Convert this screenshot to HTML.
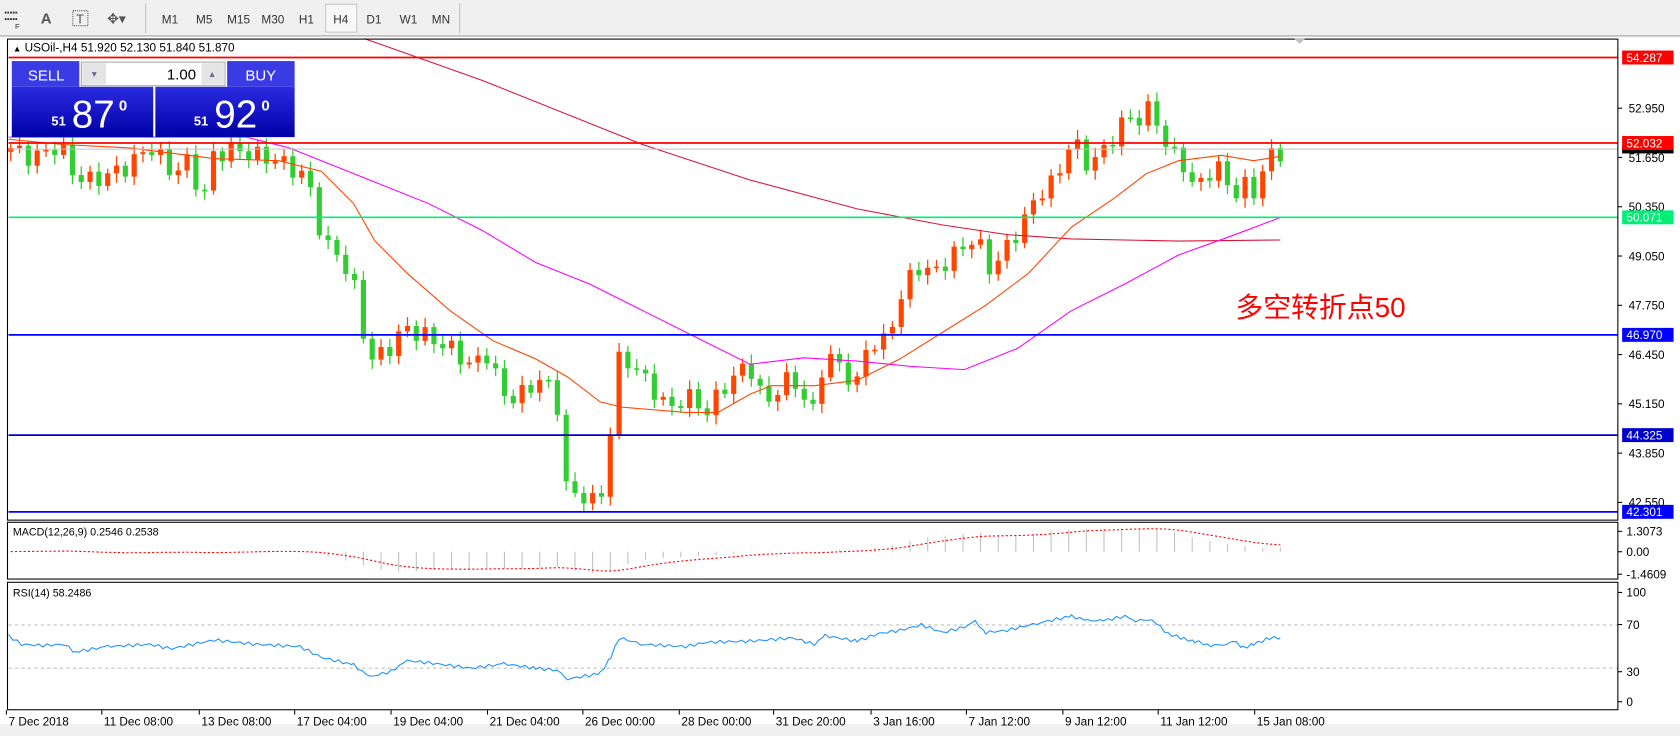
<!DOCTYPE html>
<html><head><meta charset="utf-8"><style>
html,body{margin:0;padding:0;background:#fff;overflow:hidden}
svg{display:block}
text{font-family:"Liberation Sans","Noto Sans CJK SC",sans-serif}
</style></head><body>
<svg id="s" width="1680" height="736" viewBox="0 0 1568 687" preserveAspectRatio="none" xmlns="http://www.w3.org/2000/svg">
<rect x="0" y="0" width="1568" height="687" fill="#f0f0f0"/>
<rect x="0" y="0" width="1568" height="33" fill="#f0f0f0"/>
<line x1="0" y1="33.5" x2="1568" y2="33.5" stroke="#a0a0a0"/>
<line x1="136" y1="3" x2="136" y2="31" stroke="#c0c0c0"/>
<line x1="429" y1="3" x2="429" y2="31" stroke="#c0c0c0"/>
<rect x="304" y="4" width="29" height="26" fill="#f8f8f8" stroke="#c8c8c8"/>
<g font-size="11" fill="#333">
<text x="4" y="14" font-size="7">▪▪▪▪▪</text><text x="4" y="20" font-size="7">▪▪▪▪▪</text><text x="14" y="27" font-size="7">F</text>
<text x="38" y="22" font-size="14" font-weight="bold" fill="#555">A</text>
<rect x="68" y="10" width="14" height="14" fill="none" stroke="#555" stroke-dasharray="1,1"/><text x="71" y="22" font-size="12" fill="#555">T</text>
<text x="100" y="22" font-size="13" fill="#555">✥▾</text>
<text x="151" y="22">M1</text><text x="183" y="22">M5</text><text x="212" y="22">M15</text><text x="244" y="22">M30</text><text x="279" y="22">H1</text><text x="311" y="22">H4</text><text x="342" y="22">D1</text><text x="373" y="22">W1</text><text x="403" y="22">MN</text>
</g>
<rect x="0" y="35" width="1568" height="652" fill="#fff"/>
<rect x="0" y="676" width="1568" height="11" fill="#f0f0f0"/>
<g id="plot"></g>
<rect x="7" y="36.5" width="1503" height="449" fill="none" stroke="#000"/>
<rect x="7" y="487.5" width="1503" height="53" fill="none" stroke="#000"/>
<rect x="7" y="543.5" width="1503" height="119" fill="none" stroke="#000"/>
<polygon points="1208,36 1218,36 1213,41" fill="#c0c0c0"/>
<text x="12" y="48" font-size="11"><tspan font-size="8">▲</tspan> USOil-,H4  51.920 52.130 51.840 51.870</text>
<g>
<rect x="11" y="57" width="63" height="24" fill="#3b3be6"/>
<text x="26" y="75" font-size="14" fill="#fff">SELL</text>
<rect x="212" y="57" width="63" height="24" fill="#3b3be6"/>
<text x="229" y="75" font-size="14" fill="#fff">BUY</text>
<rect x="76" y="58" width="134" height="22" fill="#fff" stroke="#aaa"/>
<rect x="77" y="59" width="22" height="20" fill="#e4e4e4"/>
<rect x="188" y="59" width="21" height="20" fill="#e4e4e4"/>
<text x="84" y="72" font-size="8" fill="#6a6aa0">▼</text><text x="194" y="72" font-size="8" fill="#6a6aa0">▲</text>
<text x="183" y="74" font-size="14" text-anchor="end">1.00</text>
<defs><linearGradient id="g" x1="0" y1="0" x2="0" y2="1"><stop offset="0" stop-color="#2b2be0"/><stop offset="1" stop-color="#0000a8"/></linearGradient></defs>
<rect x="11" y="81" width="132" height="47" fill="url(#g)"/>
<rect x="145" y="81" width="130" height="47" fill="url(#g)"/>
<text x="48" y="117" font-size="12" font-weight="bold" fill="#fff">51</text>
<text x="67" y="119" font-size="36" fill="#fff">87</text>
<text x="111" y="103" font-size="14" font-weight="bold" fill="#fff">0</text>
<text x="181" y="117" font-size="12" font-weight="bold" fill="#fff">51</text>
<text x="200" y="119" font-size="36" fill="#fff">92</text>
<text x="244" y="103" font-size="14" font-weight="bold" fill="#fff">0</text>
</g>
<text x="1153" y="296" font-size="26" fill="#ff0000">多空转折点50</text>
<g id="axis" font-size="11"></g>
</svg>
<script>
var NS="http://www.w3.org/2000/svg";
var P=document.getElementById('plot'),A=document.getElementById('axis');
function el(t,a,p){var e=document.createElementNS(NS,t);for(var k in a)e.setAttribute(k,a[k]);(p||P).appendChild(e);return e;}
function Y(p){return 101+(52.95-p)*35.38;}
var K=[[10,51.9],[30,51.8],[55,52.0],[70,51.0],[85,50.9],[100,51.2],[120,51.6],[140,52.0],[160,51.1],[175,51.4],[190,50.6],[200,51.9],[220,52.0],[240,51.6],[260,51.4],[280,51.3],[295,50.7],[300,49.5],[315,49.2],[330,48.2],[345,46.1],[360,46.5],[380,47.3],[400,47.0],[420,46.5],[440,46.0],[455,46.5],[470,45.5],[490,45.5],[505,45.8],[520,45.0],[530,42.5],[545,42.8],[560,42.6],[568,44.3],[578,46.4],[590,46.2],[600,45.7],[625,44.9],[640,45.5],[660,45.1],[680,45.7],[700,46.0],[715,45.0],[730,45.9],[745,45.8],[760,44.9],[770,46.5],[785,45.9],[800,45.6],[810,46.8],[825,46.9],[840,48.0],[855,48.8],[870,48.4],[890,49.0],[910,49.7],[925,48.8],[940,49.3],[955,49.8],[970,50.6],[985,51.0],[1000,52.3],[1015,51.6],[1030,51.8],[1050,52.5],[1065,52.6],[1075,53.0],[1090,52.0],[1105,51.6],[1115,50.8],[1130,51.2],[1140,51.2],[1150,50.5],[1160,50.9],[1172,50.8],[1182,51.8],[1195,51.9]];
function interp(x){for(var i=1;i<K.length;i++){if(x<=K[i][0]){var a=K[i-1],b=K[i];return a[1]+(b[1]-a[1])*(x-a[0])/(b[0]-a[0]);}}return K[K.length-1][1];}
var N=145,dx=(1195-10)/(N-1),C=[],prev=51.8;
for(var i=0;i<N;i++){
 var x=10+i*dx,c=interp(x)+0.25*Math.sin(i*2.3)+0.15*Math.sin(i*5.7);
 var o=prev,hi=Math.max(o,c)+0.1+0.15*Math.abs(Math.sin(i*1.7)),lo=Math.min(o,c)-0.1-0.15*Math.abs(Math.cos(i*1.3));
 var up=c>=o,col=up?'#ff4500':'#32cd32';
 el('line',{x1:x,y1:Y(hi),x2:x,y2:Y(lo),stroke:col,'stroke-width':1.2});
 var t=Y(Math.max(o,c)),h=Math.max(1.5,Math.abs(Y(o)-Y(c)));
 el('rect',{x:x-2.4,y:t,width:4.8,height:h,fill:col});
 C.push(c);prev=c;
}
function pl(pts,col,w,extra){var s=pts.map(function(p){return p[0]+','+p[1]}).join(' ');var a={points:s,fill:'none',stroke:col,'stroke-width':w};for(var k in extra)a[k]=extra[k];el('polyline',a);}
pl([[340,36],[450,75],[600,135],[700,168],[800,195],[880,210],[940,219],[1000,223],[1100,225],[1195,224]],'#dc143c',1);
pl([[8,128],[230,128],[270,138],[300,150],[350,170],[400,190],[450,215],[500,245],[550,265],[600,290],[650,315],[700,340],[750,334],[800,337],[850,342],[900,345],[950,325],[1000,290],[1050,265],[1100,238],[1150,220],[1195,203]],'#ff00ff',1);
pl([[8,130],[60,135],[120,138],[200,148],[260,150],[300,160],[330,190],[350,225],[380,255],[420,290],[460,318],[500,335],[530,352],[560,375],[580,380],[640,385],[670,385],[700,368],[720,360],[760,360],[800,355],[840,335],[880,310],[920,285],[960,255],[1000,212],[1040,185],[1070,162],[1100,150],[1140,145],[1170,150],[1195,146]],'#ff4500',1);
[[54.287,'#ff0000'],[52.032,'#ff0000'],[50.071,'#00ee76'],[46.97,'#0000ff'],[44.325,'#0000cd'],[42.301,'#0000ff']].forEach(function(h){var y=Y(h[0]);el('line',{x1:8,y1:y,x2:1510,y2:y,stroke:h[1],'stroke-width':1.6});});
el('line',{x1:8,y1:Y(51.87),x2:1510,y2:Y(51.87),stroke:'#c0c0c0','stroke-width':1});
function ema(a,n){var k=2/(n+1),r=[],e=a[0];for(var i=0;i<a.length;i++){e=a[i]*k+e*(1-k);r.push(e);}return r;}
var pre=[];for(var i=0;i<40;i++)pre.push(51.6);var CC=pre.concat(C);
var e12=ema(CC,12),e26=ema(CC,26),m=[];for(var i=0;i<CC.length;i++)m.push(e12[i]-e26[i]);
var sg=[],s=0;for(var i=0;i<m.length;i++){s=s+(m[i]-s)*0.2;sg.push(s);}
var z=515,sc=14.5,sp=[];
for(var i=0;i<N;i++){var x=10+i*dx,v=m[i+40],k=v>0?1.25:1,y=z-v*sc*k;y=Math.max(489,Math.min(539,y));
 if(i%2==0)el('line',{x1:x,y1:z,x2:x,y2:y,stroke:'#c0c0c0','stroke-width':1});
 sp.push([x,Math.max(489,Math.min(539,z-sg[i+40]*sc*(sg[i+40]>0?1.25:1)))]);}
pl(sp,'#ff0000',1,{'stroke-dasharray':'2,2'});
el('text',{x:12,y:500,'font-size':10}).textContent='MACD(12,26,9) 0.2546 0.2538';
function RY(v){return 654-v*1.01;}
el('line',{x1:8,y1:RY(70),x2:1510,y2:RY(70),stroke:'#c0c0c0','stroke-dasharray':'3,3'});
el('line',{x1:8,y1:RY(30),x2:1510,y2:RY(30),stroke:'#c0c0c0','stroke-dasharray':'3,3'});
var R=[[8,60],[20,52],[40,51],[60,52],[70,45],[100,50],[140,52],[160,48],[200,56],[240,52],[280,50],[300,40],[330,33],[345,22],[365,27],[380,37],[400,35],[440,30],[470,34],[500,30],[520,28],[530,20],[560,25],[570,40],[578,58],[600,52],[640,50],[660,54],[700,55],[740,58],[760,52],[770,60],[800,55],[820,62],[840,65],[860,70],[880,63],[900,68],[910,73],[920,63],[940,65],[970,72],[1000,78],[1015,74],[1030,74],[1050,78],[1060,74],[1075,75],[1090,62],[1105,57],[1115,55],[1130,51],[1145,52],[1150,56],[1160,49],[1170,52],[1185,58],[1195,58]];
var rp=[];for(var i=0;i<R.length-1;i++){var a=R[i],b=R[i+1];for(var x=a[0];x<b[0];x+=4){var v=a[1]+(b[1]-a[1])*(x-a[0])/(b[0]-a[0])+1.5*Math.sin(x*0.9);rp.push([x,RY(v)]);}}rp.push([1195,RY(58)]);
pl(rp,'#1e90ff',1);
el('text',{x:12,y:557,'font-size':10}).textContent='RSI(14) 58.2486';
[[52.95],[51.65],[50.35],[49.05],[47.75],[46.45],[45.15],[43.85],[42.55]].forEach(function(t){var y=Y(t[0]);el('line',{x1:1510,y1:y,x2:1514,y2:y,stroke:'#000'},A);el('text',{x:1520,y:y+4},A).textContent=t[0].toFixed(3);});
el('rect',{x:1514,y:Y(51.87)-3,width:48,height:7,fill:'#000'},A);
[[54.287,'#ff0000'],[52.032,'#ff0000'],[50.071,'#00ee76'],[46.97,'#0000ff'],[44.325,'#0000cd'],[42.301,'#0000ff']].forEach(function(h){var y=Y(h[0]);el('rect',{x:1514,y:y-6.5,width:48,height:13,fill:h[1]},A);el('text',{x:1518,y:y+4,fill:'#fff'},A).textContent=h[0].toFixed(3);});
[[496,'1.3073'],[515,'0.00'],[536,'-1.4609'],[553,'100'],[583,'70'],[627,'30'],[655,'0']].forEach(function(t){el('text',{x:1518,y:t[0]+4},A).textContent=t[1];el('line',{x1:1510,y1:t[0],x2:1514,y2:t[0],stroke:'#000'},A);});
[['7 Dec 2018',8],['11 Dec 08:00',97],['13 Dec 08:00',188],['17 Dec 04:00',277],['19 Dec 04:00',367],['21 Dec 04:00',457],['26 Dec 00:00',546],['28 Dec 00:00',636],['31 Dec 20:00',724],['3 Jan 16:00',815],['7 Jan 12:00',904],['9 Jan 12:00',994],['11 Jan 12:00',1083],['15 Jan 08:00',1173]].forEach(function(t){el('line',{x1:t[1]-2,y1:663,x2:t[1]-2,y2:667,stroke:'#000'},A);el('text',{x:t[1],y:677},A).textContent=t[0];});
</script>
</body></html>
